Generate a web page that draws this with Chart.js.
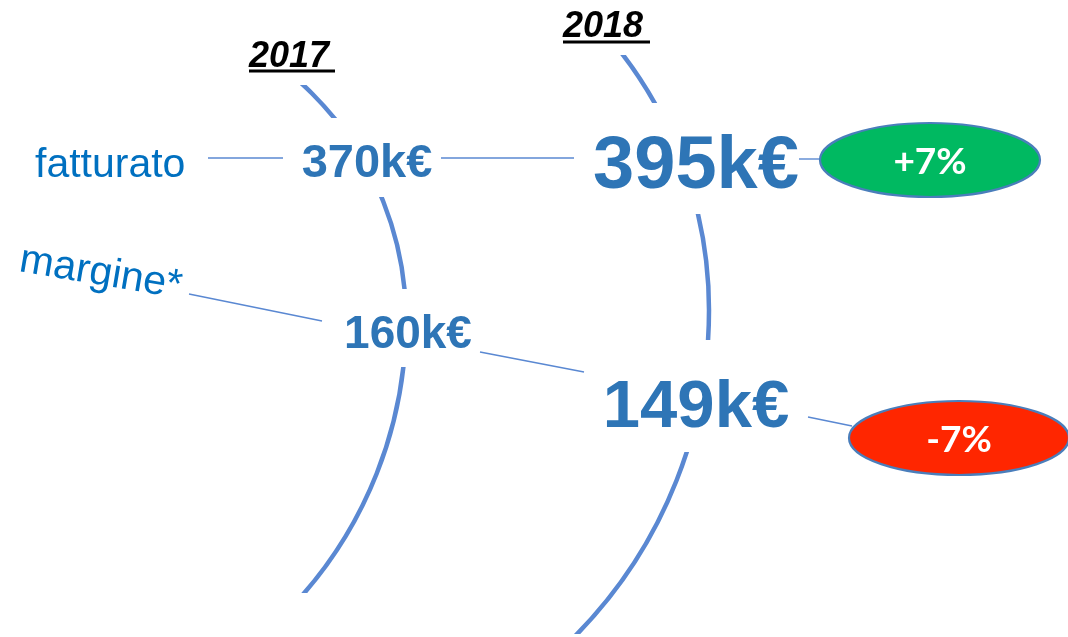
<!DOCTYPE html>
<html>
<head>
<meta charset="utf-8">
<script src="https://cdn.jsdelivr.net/npm/chart.js@4.4.1/dist/chart.umd.min.js"></script>
<style>
html,body{margin:0;padding:0;background:#fff;overflow:hidden}
#wrap{width:1068px;height:637px}
</style>
</head>
<body>
<div id="wrap"><canvas id="c" width="1068" height="637"></canvas></div>
<script>
// data
const years = ['2017', '2018'];
const metrics = ['fatturato', 'margine*'];
const values2017 = [370, 160];
const values2018 = [395, 149];
const changes = [7, -7];

// layout, in scale units (scales run 0..1068 x 0..637)
const layout = {
  // each year arc = two circle pieces meeting at its right-most point, cut into visible y bands
  arcs: [
    {xmax: 406, yj: 320, rUp: 320, rLow: 417, bands: [[85, 118], [197, 289], [367, 593]]},
    {xmax: 709, yj: 310, rUp: 421, rLow: 464, bands: [[55, 103], [214, 340], [452, 634]]}
  ],
  yearPos: [{x: 249, y: 67, u: [249, 335, 71]}, {x: 563, y: 37, u: [563, 650, 42]}],
  valPos: [
    [{x: 367, y: 177, size: 47}, {x: 696, y: 188, size: 74}],
    [{x: 408, y: 348, size: 46}, {x: 696, y: 427, size: 67}]
  ],
  labelPos: [{x: 35, y: 177, rot: 0}, {x: 18, y: 271, rot: 9.5}],
  links: [
    [[208, 158, 283, 158], [441, 158, 574, 158], [799, 159, 822, 159]],
    [[189, 294, 322, 321], [480, 352, 584, 372], [808, 417, 852, 426]]
  ],
  badges: [{x: 930, y: 160, rx: 110, ry: 37, fill: '#00B961'}, {x: 959, y: 438, rx: 110, ry: 37, fill: '#FF2600'}]
};

const arcColor = '#5A88D2';
const valColor = '#2E75B6';
const labelColor = '#0070C0';

const infographic = {
  id: 'infographic',
  afterDraw(chart) {
    const ctx = chart.ctx;
    const sx = chart.scales.x, sy = chart.scales.y;
    const px = v => sx.getPixelForValue(v);
    const py = v => sy.getPixelForValue(v);
    const unit = px(1) - px(0);
    const rad = d => d * Math.PI / 180;
    ctx.save();

    // arcs
    ctx.strokeStyle = arcColor; ctx.lineWidth = 4.5;
    layout.arcs.forEach(a => {
      a.bands.forEach(b => {
        ctx.save();
        ctx.beginPath();
        ctx.rect(0, py(b[0]), chart.width, py(b[1]) - py(b[0]));
        ctx.clip();
        ctx.beginPath();
        ctx.arc(px(a.xmax - a.rUp), py(a.yj), a.rUp * unit, -Math.PI / 2, 0);
        ctx.arc(px(a.xmax - a.rLow), py(a.yj), a.rLow * unit, 0, Math.PI / 2);
        ctx.stroke();
        ctx.restore();
      });
    });

    // connector lines
    ctx.strokeStyle = arcColor; ctx.lineWidth = 1.4;
    layout.links.forEach(row => row.forEach(l => {
      ctx.beginPath(); ctx.moveTo(px(l[0]), py(l[1])); ctx.lineTo(px(l[2]), py(l[3])); ctx.stroke();
    }));

    // year headings
    ctx.fillStyle = '#000'; ctx.textBaseline = 'alphabetic'; ctx.textAlign = 'left';
    ctx.font = 'italic bold 36px "Liberation Sans", Arial, sans-serif';
    years.forEach((y, i) => {
      const p = layout.yearPos[i];
      ctx.fillText(y, px(p.x), py(p.y));
      ctx.fillRect(px(p.u[0]), py(p.u[2]) - 1.5, px(p.u[1]) - px(p.u[0]), 3);
    });

    // metric labels
    ctx.fillStyle = labelColor;
    ctx.font = '41px "Liberation Sans", Arial, sans-serif';
    metrics.forEach((m, i) => {
      const p = layout.labelPos[i];
      ctx.save();
      ctx.translate(px(p.x), py(p.y));
      ctx.rotate(rad(p.rot));
      ctx.fillText(m, 0, 0);
      ctx.restore();
    });

    // values
    ctx.fillStyle = valColor; ctx.textAlign = 'center';
    [values2017, values2018].forEach((vals, j) => {
      vals.forEach((v, i) => {
        const p = layout.valPos[i][j];
        ctx.font = 'bold ' + p.size + 'px "Liberation Sans", Arial, sans-serif';
        ctx.fillText(v + 'k€', px(p.x), py(p.y));
      });
    });

    // change badges
    changes.forEach((c, i) => {
      const b = layout.badges[i];
      ctx.beginPath();
      ctx.ellipse(px(b.x), py(b.y), b.rx * unit, b.ry * unit, 0, 0, Math.PI * 2);
      ctx.fillStyle = b.fill; ctx.fill();
      ctx.strokeStyle = '#4A7EBB'; ctx.lineWidth = 2.2; ctx.stroke();
      ctx.fillStyle = '#fff'; ctx.textAlign = 'center'; ctx.textBaseline = 'middle';
      ctx.font = 'bold 37px Lato, "Open Sans", sans-serif';
      ctx.fillText((c > 0 ? '+' : '') + c + '%', px(b.x), py(b.y) + 2);
      ctx.textBaseline = 'alphabetic';
    });
    ctx.restore();
  }
};

new Chart(document.getElementById('c'), {
  type: 'scatter',
  data: {datasets: [{data: [], pointRadius: 0}]},
  options: {
    responsive: false,
    animation: false,
    layout: {padding: 0},
    plugins: {legend: {display: false}, tooltip: {enabled: false}},
    scales: {
      x: {type: 'linear', min: 0, max: 1068, display: false},
      y: {type: 'linear', min: 0, max: 637, reverse: true, display: false}
    }
  },
  plugins: [infographic]
});
</script>
</body>
</html>
